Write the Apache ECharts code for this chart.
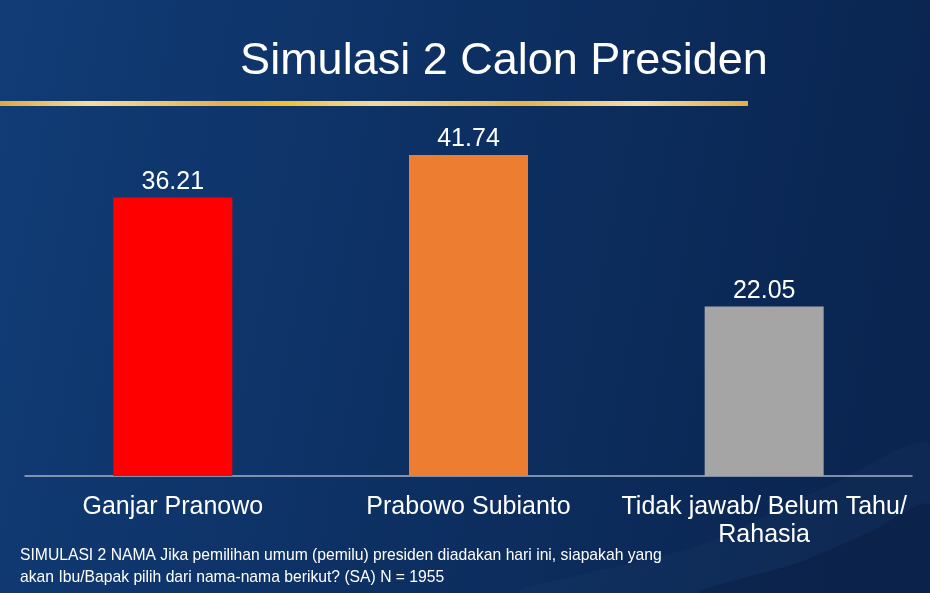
<!DOCTYPE html>
<html>
<head>
<meta charset="utf-8">
<script src="https://cdn.jsdelivr.net/npm/echarts@6/dist/echarts.min.js"></script>
<style>
  html, body { margin: 0; padding: 0; background: #0d3064; }
  #main { width: 930px; height: 593px; }
</style>
</head>
<body>
<div id="main"></div>
<script>
  // data
  const categories = ['Ganjar Pranowo', 'Prabowo Subianto', 'Tidak jawab/ Belum Tahu/\nRahasia'];
  const values = [36.21, 41.74, 22.05];
  const barColors = ['#ff0000', '#ed7d31', '#a5a5a5'];

  const titleText = 'Simulasi 2 Calon Presiden';
  const noteLines = [
    'SIMULASI 2 NAMA Jika pemilihan umum (pemilu) presiden diadakan hari ini, siapakah yang',
    'akan Ibu/Bapak pilih dari nama-nama berikut? (SA) N = 1955'
  ];

  const fontFamily = '"Liberation Sans", Arial, sans-serif';

  const myChart = echarts.init(document.getElementById('main'));

  const option = {
    backgroundColor: new echarts.graphic.LinearGradient(0, 0, 1, 0.3, [
      { offset: 0, color: '#113c76' },
      { offset: 0.5, color: '#0d3063' },
      { offset: 1, color: '#0a2550' }
    ]),
    textStyle: { fontFamily: fontFamily },
    title: {
      text: titleText,
      left: 499,
      textAlign: 'center',
      top: 34,
      textStyle: {
        color: '#ffffff',
        fontSize: 45,
        fontWeight: 'normal',
        fontFamily: fontFamily
      }
    },
    graphic: [
      // swoosh bottom right
      {
        type: 'polygon',
        silent: true,
        z: -10,
        shape: {
          points: [[520, 593], [700, 545], [830, 485], [930, 445], [930, 593]],
          smooth: 0.3
        },
        style: { fill: 'rgba(255,255,255,0.02)' }
      },
      {
        type: 'polygon',
        silent: true,
        z: -9,
        shape: {
          points: [[700, 593], [800, 562], [870, 532], [930, 505], [930, 593]],
          smooth: 0.3
        },
        style: { fill: 'rgba(0,10,40,0.2)' }
      },
      // gold rule under the title
      {
        type: 'rect',
        silent: true,
        shape: { x: 0, y: 101, width: 748, height: 5 },
        style: {
          fill: new echarts.graphic.LinearGradient(0, 0, 1, 0, [
            { offset: 0, color: '#e0a83c' },
            { offset: 0.12, color: '#f5dca0' },
            { offset: 0.3, color: '#e6b04a' },
            { offset: 0.38, color: '#f0c030' },
            { offset: 0.5, color: '#f3d8a0' },
            { offset: 0.7, color: '#e8b44a' },
            { offset: 0.85, color: '#f4dcaa' },
            { offset: 1, color: '#e6ae40' }
          ])
        }
      },
      {
        type: 'text',
        left: 20,
        top: 545,
        silent: true,
        style: {
          text: noteLines.join('\n'),
          fill: '#ffffff',
          fontSize: 15.7,
          lineHeight: 22,
          fontFamily: fontFamily
        }
      }
    ],
    grid: {
      left: 25,
      right: 18,
      top: 91.5,
      bottom: 117
    },
    xAxis: {
      type: 'category',
      data: categories,
      axisLine: { lineStyle: { color: '#a6b1c2', width: 1.5 } },
      axisTick: { show: false },
      axisLabel: {
        color: '#ffffff',
        fontSize: 25,
        lineHeight: 28,
        margin: 17,
        interval: 0,
        fontFamily: fontFamily
      }
    },
    yAxis: {
      type: 'value',
      min: 0,
      max: 50,
      show: false,
      splitLine: { show: false }
    },
    series: [
      {
        type: 'bar',
        data: values.map((v, i) => ({ value: v, itemStyle: { color: barColors[i] } })),
        barWidth: 119,
        label: {
          show: true,
          position: 'top',
          distance: 3,
          color: '#ffffff',
          fontSize: 25,
          fontFamily: fontFamily,
          formatter: p => p.value.toFixed(2)
        }
      }
    ]
  };

  myChart.setOption(option);
</script>
</body>
</html>
